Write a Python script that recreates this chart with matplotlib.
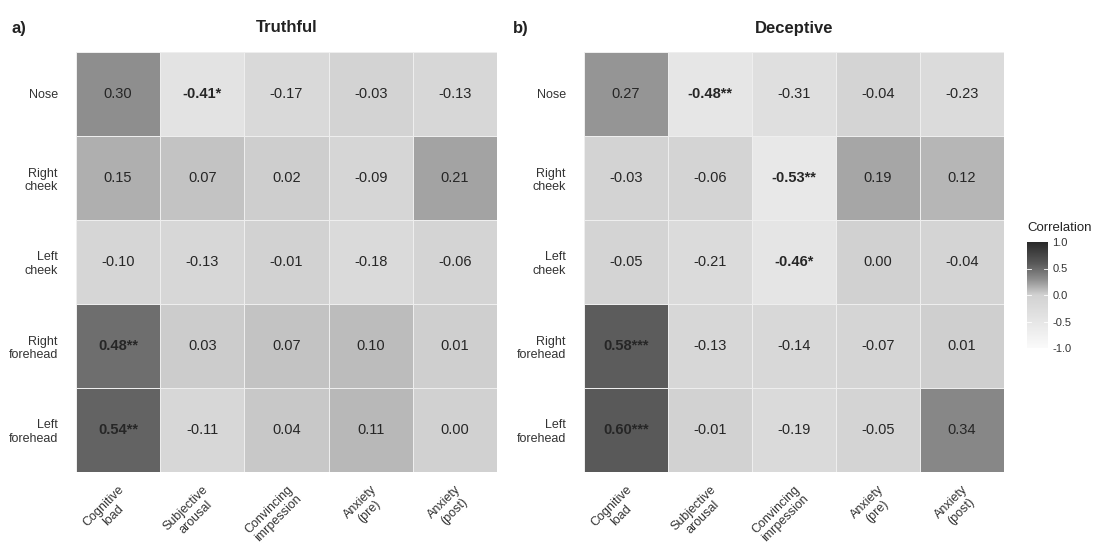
import numpy as np
import matplotlib.pyplot as plt
from matplotlib.colors import LinearSegmentedColormap

plt.rcParams['font.family'] = ['Liberation Sans', 'DejaVu Sans']

rows = ["Nose", "Right\ncheek", "Left\ncheek", "Right\nforehead", "Left\nforehead"]
cols = ["Cognitive\nload", "Subjective\narousal", "Convincing\nimrpession",
        "Anxiety\n(pre)", "Anxiety\n(post)"]

truthful = [[0.30, -0.41, -0.17, -0.03, -0.13],
            [0.15, 0.07, 0.02, -0.09, 0.21],
            [-0.10, -0.13, -0.01, -0.18, -0.06],
            [0.48, 0.03, 0.07, 0.10, 0.01],
            [0.54, -0.11, 0.04, 0.11, 0.00]]
truthful_sig = [["", "*", "", "", ""],
                ["", "", "", "", ""],
                ["", "", "", "", ""],
                ["**", "", "", "", ""],
                ["**", "", "", "", ""]]

deceptive = [[0.27, -0.48, -0.31, -0.04, -0.23],
             [-0.03, -0.06, -0.53, 0.19, 0.12],
             [-0.05, -0.21, -0.46, 0.00, -0.04],
             [0.58, -0.13, -0.14, -0.07, 0.01],
             [0.60, -0.01, -0.19, -0.05, 0.34]]
deceptive_sig = [["", "**", "", "", ""],
                 ["", "", "**", "", ""],
                 ["", "", "*", "", ""],
                 ["***", "", "", "", ""],
                 ["***", "", "", "", ""]]

cmap = LinearSegmentedColormap.from_list(
    "greys", [(0.0, "#fbfbfb"), (0.5, "#d2d2d2"), (0.65, "#8e8e8e"),
              (0.8, "#595959"), (1.0, "#2a2a2a")])

fig = plt.figure(figsize=(10.98, 5.45), dpi=100)
W, H = 1098, 545


def panel(x0, x1, vals, sig, title, tag, tagx):
    ax = fig.add_axes([x0 / W, 1 - 472 / H, (x1 - x0) / W, 420 / H])
    v = np.array(vals)
    ax.pcolormesh(v, cmap=cmap, vmin=-1, vmax=1, edgecolors="#eeeeee", linewidth=0.6)
    ax.set_xlim(0, 5)
    ax.set_ylim(5, 0)
    for i in range(5):
        for j in range(5):
            s = sig[i][j]
            ax.text(j + 0.5, i + 0.5, f"{v[i, j]:.2f}" + s, ha="center", va="center",
                    fontsize=10.5, color="#262626",
                    fontweight="bold" if s else "normal")
    ax.set_xticks(np.arange(5) + 0.5)
    ax.set_xticklabels(cols, rotation=45, ha="right", va="top",
                       rotation_mode="anchor", multialignment="center",
                       fontsize=9, color="#333333", linespacing=1.15)
    ax.set_yticks(np.arange(5) + 0.5)
    ax.set_yticklabels(rows, fontsize=9, color="#333333", multialignment="right",
                       linespacing=1.15)
    ax.tick_params(axis="y", length=0, pad=13)
    ax.tick_params(axis="x", length=0, pad=8)
    for sp in ax.spines.values():
        sp.set_visible(False)
    fig.text((x0 + x1) / 2 / W, 1 - 28 / H, title, ha="center", va="center",
             fontsize=12, fontweight="bold", color="#222222")
    fig.text(tagx / W, 1 - 28 / H, tag, ha="left", va="center",
             fontsize=12, fontweight="bold", color="#222222")
    return ax


panel(76, 497, truthful, truthful_sig, "Truthful", "a)", 12)
panel(584, 1004, deceptive, deceptive_sig, "Deceptive", "b)", 513)

cax = fig.add_axes([1027 / W, 1 - 348 / H, 21 / W, 106 / H])
grad = np.linspace(-1, 1, 256).reshape(-1, 1)
cax.imshow(grad, cmap=cmap, vmin=-1, vmax=1, aspect="auto", origin="lower",
           extent=[0, 1, -1, 1])
cax.set_xticks([])
cax.yaxis.tick_right()
cax.set_yticks([-1, -0.5, 0, 0.5, 1])
cax.set_yticklabels(["-1.0", "-0.5", "0.0", "0.5", "1.0"], fontsize=8, color="#333333")
cax.tick_params(axis="y", length=0, pad=3)
for t in [-0.5, 0, 0.5]:
    cax.plot([0, 0.2], [t, t], color="white", lw=0.6)
    cax.plot([0.8, 1], [t, t], color="white", lw=0.6)
cax.set_xlim(0, 1)
cax.set_ylim(-1, 1)
for sp in cax.spines.values():
    sp.set_visible(False)
fig.text(1027 / W, 1 - 228 / H, "Correlation", ha="left", va="center",
         fontsize=9.5, color="#222222")

fig.savefig("out.png", dpi=100)
